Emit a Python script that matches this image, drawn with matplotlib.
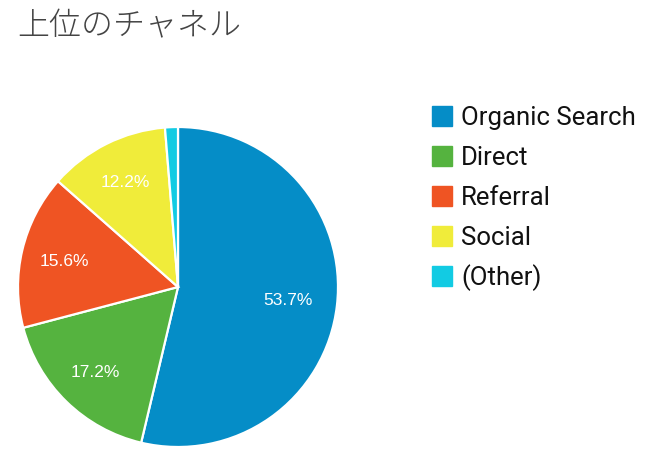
import matplotlib
matplotlib.use("Agg")
import matplotlib.pyplot as plt
import numpy as np
from matplotlib.patches import Rectangle

# channel data
channels = ["Organic Search", "Direct", "Referral", "Social", "(Other)"]
shares = [53.7, 17.2, 15.6, 12.2, 1.3]
labels = ["53.7%", "17.2%", "15.6%", "12.2%", ""]
colors = ["#058DC7", "#55B33F", "#EF5423", "#F0EC3A", "#12CBE3"]
label_dist = [0.69, 0.74, 0.73, 0.735, 0.7]

W, H = 648, 464
fig = plt.figure(figsize=(W / 100, H / 100), dpi=100)

# title
fig.text(17 / W, 1 - 26 / H, "上位のチャネル", fontsize=23, color="#444444",
         fontweight="light", family=["Noto Sans CJK JP", "DejaVu Sans"],
         va="center", ha="left")

# pie
cx, cy, r = 178, 288, 160
ax = fig.add_axes([(cx - r) / W, 1 - (cy + r) / H, 2 * r / W, 2 * r / H])
wedges, texts = ax.pie(shares, colors=colors, labels=labels, labeldistance=0.7,
                       startangle=90, counterclock=False,
                       wedgeprops=dict(edgecolor="white", linewidth=1.6),
                       textprops=dict(color="white", fontsize=12.5,
                                      family="Liberation Sans"))
for t, d in zip(texts, label_dist):
    x, y = t.get_position()
    t.set_position((x / 0.7 * d, y / 0.7 * d))
    t.set_ha("center")
    t.set_va("center")
ax.set_xlim(-1.0, 1.0)
ax.set_ylim(-1.0, 1.0)
ax.set_aspect("equal")
ax.axis("off")

# legend
for i, (name, col) in enumerate(zip(channels, colors)):
    y = 117 + 40 * i
    fig.patches.append(Rectangle((432 / W, 1 - (y + 10) / H), 20 / W, 20 / H,
                                 color=col, transform=fig.transFigure))
    fig.text(461 / W, 1 - (y + 8) / H, name, fontsize=18.5, color="#111111",
             family="Roboto", va="baseline", ha="left")

fig.savefig("out.png", dpi=100)
